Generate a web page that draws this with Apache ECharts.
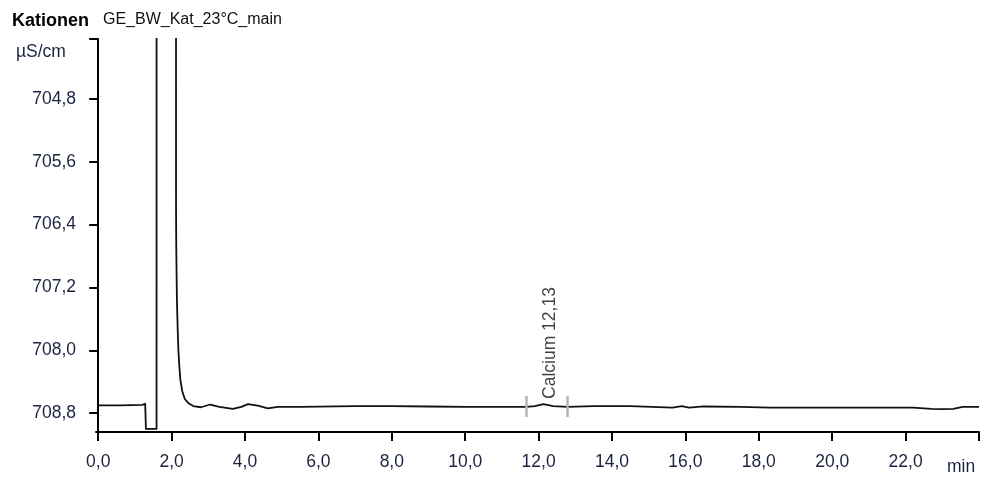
<!DOCTYPE html>
<html>
<head>
<meta charset="utf-8">
<script src="https://cdn.jsdelivr.net/npm/echarts@6.0.0/dist/echarts.min.js"></script>
<style>
  html, body { margin: 0; padding: 0; background: #fff; }
  #chart { width: 983px; height: 477px; }
</style>
</head>
<body>
<div id="chart"></div>
<script>
// Kationen chromatogram, y axis inverted (µS/cm), time in min
const timeMin = [
  0.00, 0.60, 1.20, 1.28, 1.30, 1.59, 1.592, 2.118, 2.121, 2.127, 2.135, 2.145, 2.165, 2.185, 2.21,
  2.24, 2.29, 2.36, 2.45, 2.59, 2.80,
  3.05, 3.30, 3.67, 3.90, 4.08, 4.35, 4.62, 4.90, 5.50, 7.0, 8.0, 9.0, 10.0, 11.0, 11.67,
  11.9, 12.13, 12.4, 12.78, 13.5, 14.5, 15.65, 15.9, 16.1, 16.5, 17.5, 18.3, 19.5, 20.5,
  21.5, 22.2, 22.7, 23.0, 23.3, 23.55, 24.0
];
const signal = [
  708.70, 708.70, 708.695, 708.68, 709.00, 709.00, 690.0, 690.0, 706.2, 706.68, 707.0, 707.36, 707.72, 708.00, 708.2,
  708.38, 708.52, 708.62, 708.67, 708.71, 708.725,
  708.69, 708.72, 708.745, 708.72, 708.685, 708.705, 708.74, 708.72, 708.72, 708.71, 708.71, 708.715, 708.72, 708.72, 708.72,
  708.71, 708.685, 708.71, 708.72, 708.71, 708.71, 708.73, 708.71, 708.73, 708.715, 708.72, 708.73, 708.73, 708.73,
  708.73, 708.73, 708.745, 708.75, 708.745, 708.72, 708.72
];

const xTicks = [0, 2, 4, 6, 8, 10, 12, 14, 16, 18, 20, 22, 24];
const xLabels = [0, 2, 4, 6, 8, 10, 12, 14, 16, 18, 20, 22];
const yMin = 704.036, yMax = 709.04;
const yTicks = [704.036, 704.8, 705.6, 706.4, 707.2, 708.0, 708.8];
const yLabels = [704.8, 705.6, 706.4, 707.2, 708.0, 708.8];

// peak window (Calcium) and its label
const peakBounds = [11.67, 12.78];
const peakMarkRange = [708.581, 708.849];
const peakName = 'Calcium 12,13';
const peakLabelPos = [12.13, 708.607];

const FONT = "'Liberation Sans', Arial, sans-serif";
const LABEL_COLOR = '#1b2340';

const fmt = v => v.toFixed(1).replace('.', ',');

const chart = echarts.init(document.getElementById('chart'), null, { renderer: 'canvas' });

chart.setOption({
  animation: false,
  backgroundColor: '#fff',
  grid: { left: 96, right: 4, top: 39, bottom: 45 },
  graphic: [
    { type: 'text', left: 12, top: 12, style: { text: 'Kationen', font: 'bold 18px ' + FONT, fill: '#000' } },
    { type: 'text', left: 103, top: 12, style: { text: 'GE_BW_Kat_23°C_main', font: '16px ' + FONT, fill: '#111' } },
    { type: 'text', left: 16, top: 43, style: { text: 'µS/cm', font: '17.5px ' + FONT, fill: LABEL_COLOR } },
    { type: 'text', left: 947, top: 458, style: { text: 'min', font: '17.5px ' + FONT, fill: LABEL_COLOR } }
  ],
  xAxis: {
    type: 'value',
    min: -0.06,
    max: 24,
    axisLine: { show: true, lineStyle: { color: '#000', width: 2 } },
    axisTick: { show: true, length: 9, lineStyle: { color: '#000', width: 2 }, customValues: xTicks },
    axisLabel: {
      customValues: xLabels,
      formatter: v => fmt(v),
      margin: 21,
      fontSize: 17.5,
      fontFamily: FONT,
      color: LABEL_COLOR
    },
    splitLine: { show: false }
  },
  yAxis: {
    type: 'value',
    inverse: true,
    min: yMin,
    max: yMax,
    axisLine: { show: true, lineStyle: { color: '#000', width: 2 } },
    axisTick: { show: true, length: 9, lineStyle: { color: '#000', width: 2 }, customValues: yTicks },
    axisLabel: {
      customValues: yLabels,
      formatter: v => fmt(v),
      margin: 20,
      fontSize: 17.5,
      fontFamily: FONT,
      color: LABEL_COLOR
    },
    splitLine: { show: false }
  },
  series: [
    {
      type: 'line',
      data: timeMin.map((t, i) => [t, signal[i]]),
      showSymbol: false,
      clip: true,
      lineStyle: { color: '#111', width: 1.8, join: 'round' },
      markLine: {
        silent: true,
        symbol: 'none',
        label: { show: false },
        lineStyle: { color: '#b5b5b5', width: 2.5, type: 'solid' },
        data: peakBounds.map(t => [{ coord: [t, peakMarkRange[0]] }, { coord: [t, peakMarkRange[1]] }])
      }
    },
    {
      type: 'scatter',
      data: [peakLabelPos],
      symbolSize: 0,
      silent: true,
      label: {
        show: true,
        formatter: peakName,
        position: 'top',
        distance: 0,
        rotate: 90,
        align: 'left',
        verticalAlign: 'middle',
        offset: [-1, 7],
        fontSize: 17.5,
        fontFamily: FONT,
        color: '#111'
      }
    }
  ]
});
</script>
</body>
</html>
